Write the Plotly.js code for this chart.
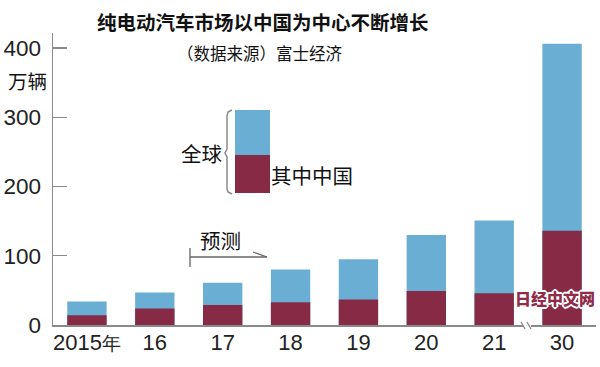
<!DOCTYPE html>
<html><head><meta charset="utf-8">
<script src="https://cdn.plot.ly/plotly-3.0.1.min.js"></script>
<style>html,body{margin:0;padding:0;background:#fff;}</style>
</head><body>
<div id="chart" style="width:600px;height:367px;"></div>
<script>
// ---- data (万辆) ----
var categories = ["2015年", "16", "17", "18", "19", "20", "21", "30"];
var globalTotal = [34, 47, 61, 80, 95, 130, 151, 406];
var chinaValues = [14, 24, 29, 33, 37, 49, 46, 136];
var yTickVals = [0, 100, 200, 300, 400];
var yTickText = ["0", "100", "200", "300", "400"];

var W = 600, H = 367;
var M = {l: 53, r: 4, t: 33, b: 42};
var PW = W - M.l - M.r, PH = H - M.t - M.b;
function px(x) { return (x - M.l) / PW; }
function py(y) { return (H - M.b - y) / PH; }

var BLUE = "#6aaed4", MAROON = "#872a45", GRAY = "#8a8a8a";
var CJK = "Noto Sans CJK SC, sans-serif";
var NUM = "Liberation Sans, Arial, sans-serif";

var xTickText = categories.map(function (c) {
  return c.replace("年", "<span style='font-size:19px'>年</span>");
});

var traces = [
  {type: "bar", x: categories, y: globalTotal, name: "全球", marker: {color: BLUE}, width: 0.58, hoverinfo: "none"},
  {type: "bar", x: categories, y: chinaValues, name: "其中中国", marker: {color: MAROON}, width: 0.58, hoverinfo: "none"}
];

var WHITE_HALO = "1px 1px 0 #fff, -1px -1px 0 #fff, 1px -1px 0 #fff, -1px 1px 0 #fff, 2px 0 0 #fff, -2px 0 0 #fff, 0 2px 0 #fff, 0 -2px 0 #fff";

var annotations = [
  {text: "纯电动汽车市场以中国为中心不断增长", x: px(263), y: py(21), font: {family: CJK, size: 19.5, color: "#111", weight: 700}},
  {text: "（数据来源）富士经济", x: px(260), y: py(53), font: {family: CJK, size: 16.5, color: "#111"}},
  {text: "万辆", x: px(27), y: py(80), font: {family: CJK, size: 19.5, color: "#111"}},
  {text: "全球", x: px(201), y: py(153), font: {family: CJK, size: 20.5, color: "#111"}},
  {text: "其中中国", x: px(312), y: py(175), font: {family: CJK, size: 20.5, color: "#111"}},
  {text: "预测", x: px(220), y: py(240), font: {family: CJK, size: 20.5, color: "#111"}},
  {text: "日经中文网", x: px(555), y: py(298), font: {family: CJK, size: 16, color: "#8e2c4a", weight: 900, shadow: WHITE_HALO}}
].map(function (a) {
  return Object.assign({xref: "paper", yref: "paper", showarrow: false, xanchor: "center", yanchor: "middle"}, a);
});

function rect(x0, y0, x1, y1, color) {
  return {type: "rect", xref: "paper", yref: "paper", x0: px(x0), x1: px(x1), y0: py(y1), y1: py(y0),
          fillcolor: color, line: {width: 0}, layer: "above"};
}
function line(x0, y0, x1, y1, color, w) {
  return {type: "line", xref: "paper", yref: "paper", x0: px(x0), x1: px(x1), y0: py(y0), y1: py(y1),
          line: {color: color, width: w}, layer: "above"};
}
function pathP(pts) {
  return pts.map(function (p, i) { return (i ? "L" : "M") + px(p[0]) + "," + py(p[1]); }).join(" ");
}

var shapes = [
  rect(235, 110, 270, 155, BLUE),
  rect(235, 155, 270, 193, MAROON),
  // bracket
  {type: "path", xref: "paper", yref: "paper", layer: "above", line: {color: GRAY, width: 1.5},
   path: pathP([[232, 110], [228, 112], [227, 116], [227, 149], [225, 153], [227, 157], [227, 189], [228, 192], [232, 194]])},
  // forecast arrow
  line(190, 257, 267, 257, "#666", 1.3),
  line(190, 248, 190, 267, "#666", 1.3),
  line(253, 252, 267, 257, "#666", 1.3),
  // axis break
  rect(523, 320, 531, 330, "#ffffff"),
  line(521, 322, 525, 329, GRAY, 1.3),
  line(527, 322, 531, 329, GRAY, 1.3)
];

var layout = {
  width: W, height: H,
  margin: M,
  paper_bgcolor: "#fff", plot_bgcolor: "#fff",
  barmode: "overlay",
  showlegend: false,
  xaxis: {type: "category", range: [-0.5, 7.5], showline: true, linecolor: GRAY, linewidth: 1.5,
          tickmode: "array", tickvals: categories, ticktext: xTickText,
          ticks: "", showgrid: false, zeroline: false, fixedrange: true,
          ticklabelstandoff: -3,
          tickfont: {family: NUM, size: 22, color: "#222"}},
  yaxis: {range: [0, 421.7], showline: true, linecolor: GRAY, linewidth: 1.5,
          tickmode: "array", tickvals: yTickVals, ticktext: yTickText,
          ticks: "inside", ticklen: 14, tickcolor: GRAY, tickwidth: 1.3,
          ticklabelstandoff: 6,
          showgrid: false, zeroline: false, fixedrange: true,
          tickfont: {family: NUM, size: 22.5, color: "#222"}},
  annotations: annotations,
  shapes: shapes
};

Plotly.newPlot("chart", traces, layout, {staticPlot: true, displayModeBar: false});
</script>
</body></html>
